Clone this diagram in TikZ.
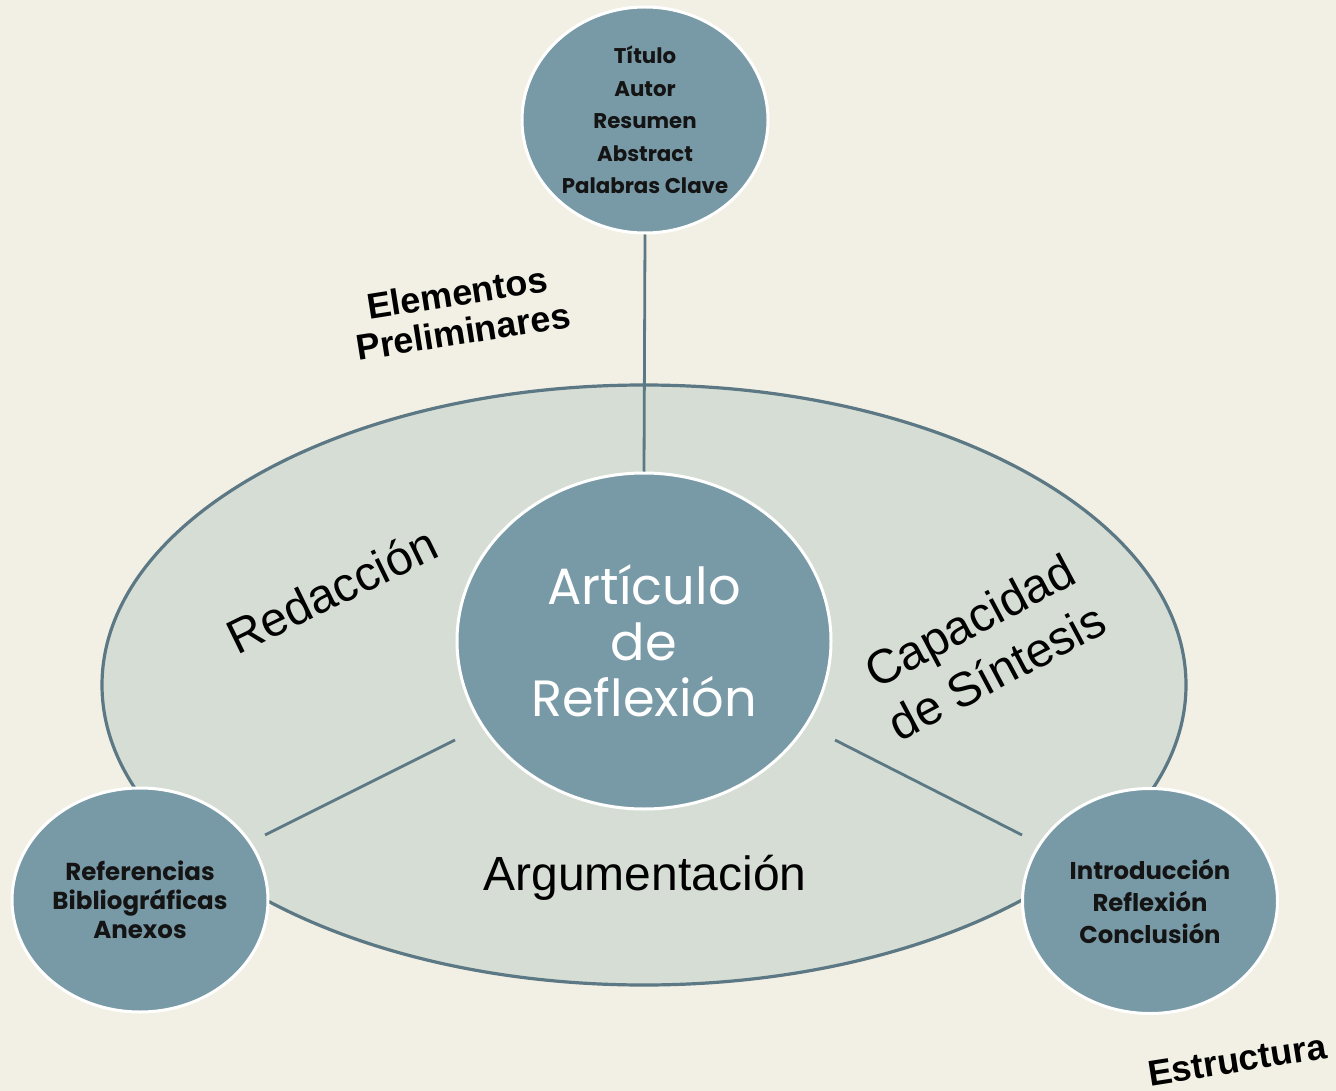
\documentclass[tikz,border=0pt]{standalone}
\usepackage{fontspec}
\setmainfont{Liberation Sans}
\newfontfamily\twfont{Poppins}
\usetikzlibrary{shapes.geometric}
\definecolor{bgcol}{HTML}{F2F0E4}
\definecolor{ellcol}{HTML}{D5DDD4}
\definecolor{edgecol}{HTML}{5B7884}
\definecolor{circcol}{HTML}{7899A6}
\begin{document}
\begin{tikzpicture}[x=1pt,y=-1pt,
  bubble/.style={ellipse, fill=circcol, draw=white, line width=3pt, inner sep=0pt},
  smalltxt/.style={text=black!92, align=center},
  biglbl/.style={font=\fontsize{48}{58}\selectfont, align=center, text=black},
  boldlbl/.style={font=\bfseries\fontsize{36}{39}\selectfont, align=center, text=black},
  conn/.style={draw=edgecol, line width=2.8pt}]
\fill[bgcol] (0,0) rectangle (1336,1091);
\useasboundingbox (0,0) rectangle (1336,1091);

\node[ellipse, fill=ellcol, draw=edgecol, line width=3.2pt, minimum width=1084pt, minimum height=600pt, inner sep=0pt] (outer) at (644,685) {};

\coordinate (l1) at (265,835);
\coordinate (l2) at (455,740);
\coordinate (r1) at (835,740);
\coordinate (r2) at (1022,835);

\node[bubble, minimum width=374pt, minimum height=336pt, font=\twfont\fontsize{51}{56}\selectfont, text=white, align=center] (center) at (644,641) {Artículo\\de\\Reflexión};
\node[bubble, minimum width=246pt, minimum height=226pt, smalltxt, font=\twfont\bfseries\fontsize{21.3}{32.5}\selectfont] (top) at (645,120) {Título\\Autor\\Resumen\\Abstract\\Palabras Clave};
\node[bubble, minimum width=256pt, minimum height=224pt, smalltxt, font=\twfont\bfseries\fontsize{24.5}{29}\selectfont] (left) at (140,900) {Referencias\\Bibliográficas\\Anexos};
\node[bubble, minimum width=255pt, minimum height=225pt, smalltxt, font=\twfont\bfseries\fontsize{24.3}{32}\selectfont] (right) at (1150,901) {Introducción\\Reflexión\\Conclusión};

\draw[conn] (top.south) -- (center.north);
\draw[conn] (l1) -- (l2);
\draw[conn] (r1) -- (r2);

\node[boldlbl, rotate=9] (elem) at (460,312) {Elementos\\Preliminares};
\node[biglbl, rotate=26] (redac) at (332,590) {Redacción};
\node[biglbl, rotate=28] (capac) at (983,646) {Capacidad\\de Síntesis};
\node[biglbl] (argum) at (645,878) {Argumentación};
\node[boldlbl, rotate=9] (estr) at (1237,1060) {Estructura};
\end{tikzpicture}
\end{document}
